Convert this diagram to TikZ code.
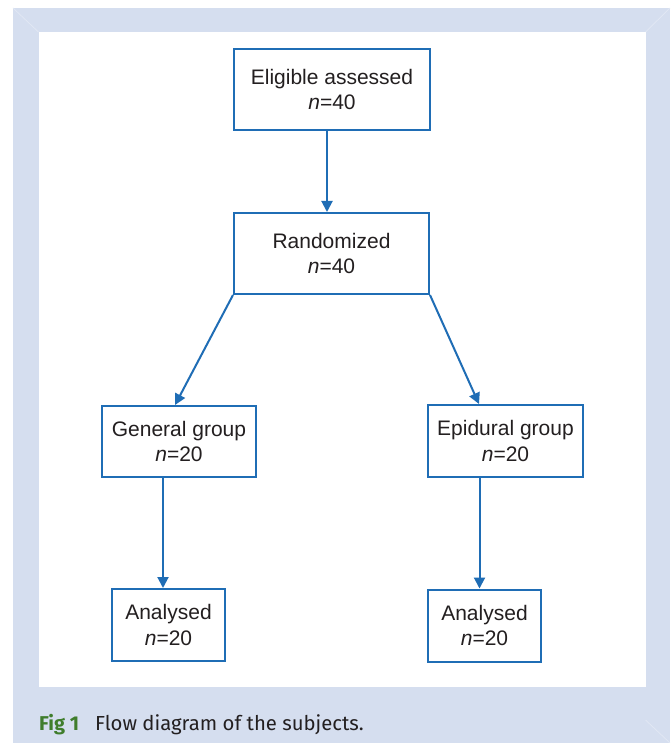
\documentclass[tikz,border=0pt]{standalone}
\usepackage{fontspec}
\setmainfont{Liberation Sans}
\newfontfamily\capfont{Fira Sans}
\usetikzlibrary{arrows.meta}
\definecolor{flowblue}{HTML}{1F6DB5}
\definecolor{panelblue}{HTML}{D5DEEF}
\definecolor{panelline}{HTML}{E2E8F4}
\definecolor{figgreen}{HTML}{3F7D2C}
\definecolor{inktext}{HTML}{231F20}
\tikzset{
  flowbox/.style={draw=flowblue, line width=2pt, fill=white, rectangle,
    align=center, text=inktext, inner sep=0pt,
    font=\fontsize{21}{25.5}\selectfont},
  arr/.style={draw=flowblue, line width=2pt,
    -{Triangle[length=11pt,width=11pt]}},
}
\begin{document}
\begin{tikzpicture}[x=1pt,y=-1pt]
\useasboundingbox (0,0) rectangle (670,743);
\fill[white] (0,0) rectangle (670,743);
\fill[panelblue] (13,8) rectangle (670,743);
\fill[white] (38.5,32) rectangle (645.5,687);
\draw[panelline, line width=0.7pt] (13,8) -- (38.5,32);
\draw[panelline, line width=0.7pt] (670,8) -- (645.5,32);
\draw[panelline, line width=0.7pt] (670,743) -- (645.5,720);

\node[flowbox, minimum width=196pt, minimum height=81pt] (elig) at (332,89.5)
  {Eligible assessed\\\textit{n}=40};
\node[flowbox, minimum width=195pt, minimum height=81pt] (rand) at (331.5,253.5)
  {Randomized\\\textit{n}=40};
\node[flowbox, minimum width=154pt, minimum height=71pt] (gen) at (179,441.5)
  {General group\\\textit{n}=20};
\node[flowbox, minimum width=155pt, minimum height=72pt] (epi) at (505.5,441)
  {Epidural group\\\textit{n}=20};
\node[flowbox, minimum width=113pt, minimum height=72pt] (anL) at (168.5,625)
  {Analysed\\\textit{n}=20};
\node[flowbox, minimum width=113pt, minimum height=72pt] (anR) at (484.5,625.5)
  {Analysed\\\textit{n}=20};

\draw[arr] ([xshift=-5pt]elig.south) -- ([xshift=-4.5pt]rand.north);
\draw[arr] (rand.south west) -- ([xshift=-4pt]gen.north);
\draw[arr] (rand.south east) -- ([xshift=-26.5pt]epi.north);
\draw[arr] ([xshift=-16pt]gen.south) -- ([xshift=-16pt]gen.south |- anL.north);
\draw[arr] ([xshift=-26pt]epi.south) -- ([xshift=-26pt]epi.south |- anR.north);

\node[anchor=base west, inner sep=0pt, text=inktext,
  font=\capfont\fontsize{20.3}{24}\selectfont] (cap) at (39,730)
  {{\color{figgreen}\bfseries\fontsize{20}{24}\selectfont Fig 1}\hspace{16pt}Flow diagram of the subjects.};
\end{tikzpicture}
\end{document}
